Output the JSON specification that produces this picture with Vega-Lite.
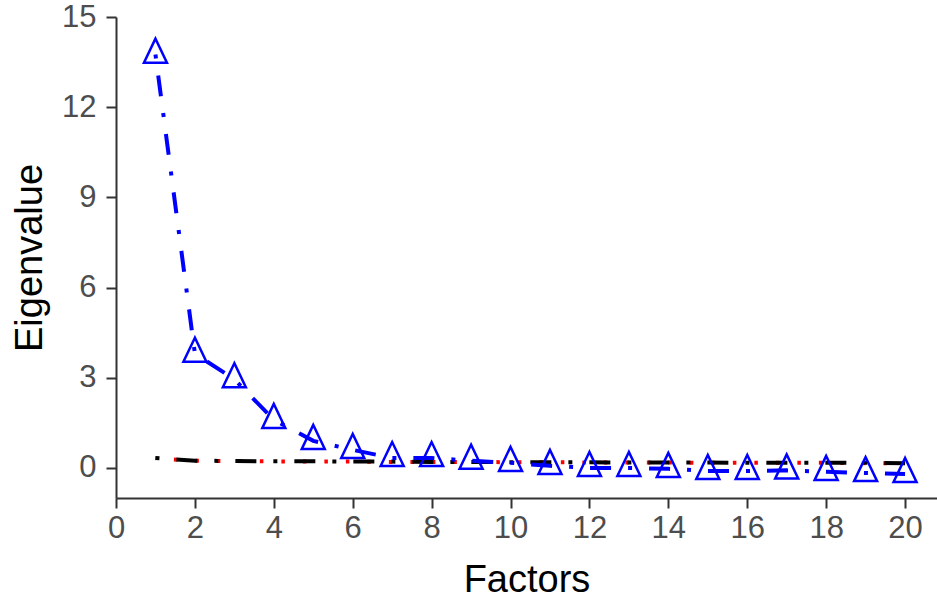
{
  "$schema": "https://vega.github.io/schema/vega-lite/v6.json",
  "width": 821,
  "height": 481,
  "autosize": {"type": "none"},
  "padding": {"left": 116, "top": 17, "right": 0, "bottom": 102},
  "background": "white",
  "config": {
    "view": {"stroke": null},
    "axis": {
      "grid": false,
      "domainColor": "#333333",
      "domainWidth": 2,
      "tickColor": "#333333",
      "tickWidth": 2,
      "tickSize": 10,
      "labelFont": "Liberation Sans",
      "labelFontSize": 31,
      "labelColor": "#4d4d4d",
      "labelFlush": false,
      "labelOverlap": false,
      "titleFont": "Liberation Sans",
      "titleFontSize": 38,
      "titleFontWeight": "normal",
      "titleColor": "#000000"
    }
  },
  "datasets": {
    "actual": [
      {"factor": 1, "value": 13.75},
      {"factor": 2, "value": 3.8},
      {"factor": 3, "value": 2.95},
      {"factor": 4, "value": 1.6},
      {"factor": 5, "value": 0.9},
      {"factor": 6, "value": 0.6},
      {"factor": 7, "value": 0.33},
      {"factor": 8, "value": 0.33},
      {"factor": 9, "value": 0.24},
      {"factor": 10, "value": 0.17},
      {"factor": 11, "value": 0.07},
      {"factor": 12, "value": 0.0},
      {"factor": 13, "value": 0.0},
      {"factor": 14, "value": -0.03},
      {"factor": 15, "value": -0.1},
      {"factor": 16, "value": -0.1},
      {"factor": 17, "value": -0.08},
      {"factor": 18, "value": -0.13},
      {"factor": 19, "value": -0.17},
      {"factor": 20, "value": -0.2}
    ],
    "simulated": [
      {"factor": 1, "value": 0.33},
      {"factor": 2, "value": 0.24},
      {"factor": 3, "value": 0.23},
      {"factor": 4, "value": 0.22},
      {"factor": 5, "value": 0.22},
      {"factor": 6, "value": 0.21},
      {"factor": 7, "value": 0.21},
      {"factor": 8, "value": 0.2},
      {"factor": 9, "value": 0.2},
      {"factor": 10, "value": 0.19},
      {"factor": 11, "value": 0.19},
      {"factor": 12, "value": 0.19},
      {"factor": 13, "value": 0.18},
      {"factor": 14, "value": 0.18},
      {"factor": 15, "value": 0.18},
      {"factor": 16, "value": 0.17},
      {"factor": 17, "value": 0.17},
      {"factor": 18, "value": 0.17},
      {"factor": 19, "value": 0.17},
      {"factor": 20, "value": 0.16}
    ],
    "resampled": [
      {"factor": 1, "value": 0.32},
      {"factor": 2, "value": 0.24},
      {"factor": 3, "value": 0.23},
      {"factor": 4, "value": 0.22},
      {"factor": 5, "value": 0.21},
      {"factor": 6, "value": 0.21},
      {"factor": 7, "value": 0.2},
      {"factor": 8, "value": 0.2},
      {"factor": 9, "value": 0.2},
      {"factor": 10, "value": 0.19},
      {"factor": 11, "value": 0.19},
      {"factor": 12, "value": 0.18},
      {"factor": 13, "value": 0.18},
      {"factor": 14, "value": 0.18},
      {"factor": 15, "value": 0.17},
      {"factor": 16, "value": 0.17},
      {"factor": 17, "value": 0.17},
      {"factor": 18, "value": 0.17},
      {"factor": 19, "value": 0.16},
      {"factor": 20, "value": 0.16}
    ]
  },
  "encoding": {
    "x": {
      "field": "factor",
      "type": "quantitative",
      "scale": {"domain": [0, 20.81], "nice": false, "zero": false},
      "axis": {"values": [0, 2, 4, 6, 8, 10, 12, 14, 16, 18, 20], "title": "Factors", "labelPadding": 5, "titlePadding": 18}
    },
    "y": {
      "field": "value",
      "type": "quantitative",
      "scale": {"domain": [-1, 15], "nice": false, "zero": false},
      "axis": {"values": [0, 3, 6, 9, 12, 15], "title": "Eigenvalue", "labelPadding": 10, "titlePadding": 12}
    }
  },
  "layer": [
    {
      "data": {"name": "resampled"},
      "mark": {"type": "line", "color": "#ff0000", "strokeWidth": 4, "strokeDash": [3.5, 18], "strokeDashOffset": 3}
    },
    {
      "data": {"name": "simulated"},
      "mark": {"type": "line", "color": "#000000", "strokeWidth": 4, "strokeDash": [4, 17, 21, 17]}
    },
    {
      "data": {"name": "actual"},
      "mark": {"type": "line", "color": "#0000ff", "strokeWidth": 4, "strokeDash": [4, 17, 21, 17]}
    },
    {
      "data": {"name": "actual"},
      "mark": {"type": "point", "shape": "M0,-1.39L-1,0.7L1,0.7Z", "filled": false, "color": "#0000ff", "size": 529, "strokeWidth": 2.5, "opacity": 1}
    }
  ]
}
